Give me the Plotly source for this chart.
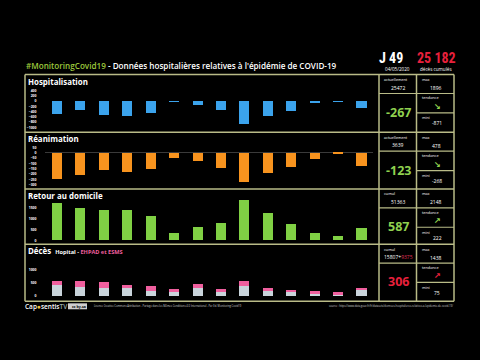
import plotly.graph_objects as go

# ---------------- data ----------------
days = ["21/04", "22/04", "23/04", "24/04", "25/04", "26/04", "27/04",
        "28/04", "29/04", "30/04", "01/05", "02/05", "03/05", "04/05"]
hosp = [-475, -350, -512, -562, -437, -15, -150, -350, -871, -550, -375, -50, -10, -267]
rea = [-247, -210, -161, -183, -149, -46, -74, -139, -268, -186, -130, -53, -8, -123]
retour = [1762, 1484, 1422, 1406, 1113, 325, 618, 819, 1901, 1252, 742, 355, 222, 587]
deces_hop = [400, 337, 312, 350, 200, 162, 300, 200, 375, 187, 135, 125, 87, 230]
deces_ehpad = [150, 225, 225, 50, 175, 88, 150, 62, 187, 113, 90, 50, 50, 76]

hosp_ticks = [400, 200, 0, -200, -400, -600, -800, -1000]
rea_ticks = [50, 0, -50, -100, -150, -200, -250, -300]
retour_ticks = [1500, 1000, 500, 0]
deces_ticks = [1000, 500, 0]

panel_titles = ["Hospitalisation", "Réanimation", "Retour au domicile", "Décès"]
stat_labels = ["actuellement", "actuellement", "cumul", "cumul"]
stat_values = ["25472", "3639", "51363", "15807+<span style='color:#e0325a'>9375</span>"]
max_values = ["1896", "478", "2148", "1438"]
mini_values = ["-871", "-268", "222", "75"]
big_values = ["-267", "-123", "587", "306"]
trend_arrows = ["\u2198", "\u2198", "\u2197", "\u2197"]

W, H = 480, 360
GREEN = "#8fd14f"
RED = "#e8203c"
PINK = "#ef5f9e"
FRAME = "#b9bb87"
FONT = "Open Sans"


def px(x):
    return x / W


def py(y):
    return 1 - y / H


fig = go.Figure()

colors = ["#3ba3ec", "#f7931e", "#80d044"]
series = [hosp, rea, retour]
for i, (s, c) in enumerate(zip(series, colors)):
    fig.add_trace(go.Bar(x=days, y=s, marker_color=c, width=0.43,
                         xaxis=f"x{i+1 if i else ''}", yaxis=f"y{i+1 if i else ''}",
                         showlegend=False, marker_line_width=0))
fig.add_trace(go.Bar(x=days, y=deces_hop, marker_color="#c9d4db", width=0.43,
                     xaxis="x4", yaxis="y4", showlegend=False, marker_line_width=0))
fig.add_trace(go.Bar(x=days, y=deces_ehpad, marker_color=PINK, width=0.43,
                     xaxis="x4", yaxis="y4", showlegend=False, marker_line_width=0))

xdom = [px(45.3), px(373.2)]
ydoms = [(88, 129), (145, 187), (198, 242), (258, 298)]
yranges = [[-1064, 475], [-318, 71], [-60, 1977], [-49, 1449]]
yticks = [hosp_ticks, rea_ticks, retour_ticks, deces_ticks]

layout = dict(
    width=W, height=H, margin=dict(l=0, r=0, t=0, b=0),
    paper_bgcolor="black", plot_bgcolor="black", barmode="stack",
    font=dict(family=FONT, color="white"),
)
for i in range(4):
    sfx = str(i + 1) if i else ""
    layout[f"xaxis{sfx}"] = dict(domain=xdom, anchor=f"y{sfx}", showticklabels=False,
                                 showgrid=False, zeroline=False, showline=False,
                                 range=[-0.5, 13.5], type="category")
    top, bot = ydoms[i]
    layout[f"yaxis{sfx}"] = dict(domain=[py(bot), py(top)], anchor="free", position=px(36.5),
                                 range=yranges[i], tickvals=yticks[i], showgrid=False,
                                 zeroline=(i == 1), zerolinecolor="#3a3a3a", zerolinewidth=1,
                                 showline=False, ticks="",
                                 tickfont=dict(size=3.4, color="white", family=FONT, weight=700))
fig.update_layout(**layout)

shapes = []


def line(x0, y0, x1, y1, w=1.5):
    shapes.append(dict(type="line", xref="paper", yref="paper",
                       x0=px(x0), y0=py(y0), x1=px(x1), y1=py(y1),
                       line=dict(color=FRAME, width=w)))


L, R, C1, C2 = 25, 454, 379, 416.5
tops = [74, 132, 189, 244.5]
bottom = 302
line(L, tops[0], R, tops[0])
line(L, bottom, R, bottom)
line(L, tops[0], L, bottom)
line(R, tops[0], R, bottom)
line(C1, tops[0], C1, bottom)
line(C2, tops[0], C2, bottom)
for t in tops[1:]:
    line(L, t, R, t)
for t in tops:
    line(C1, t + 19, R, t + 19, 1.2)
    line(C2, t + 38.5, R, t + 38.5, 1.2)

annotations = []


def text(x, y, s, size, color="white", xanchor="center", weight=400, family=FONT):
    annotations.append(dict(xref="paper", yref="paper", x=px(x), y=py(y), text=s,
                            showarrow=False, xanchor=xanchor, yanchor="middle",
                            font=dict(size=size, color=color, family=family, weight=weight)))


COND = "Liberation Sans Narrow, Roboto Condensed, Open Sans"

# header
text(23.5, 65, "<span style='color:#9cc83c'>#MonitoringCovid19</span> - Données hospitalières relatives à l'épidémie de COVID-19",
     8.15, xanchor="left", weight=600)
text(391, 57, "J 49", 14, weight=700, family=COND)
text(397, 68.5, "04/05/2020", 4.6)
text(436, 57, "25 182", 14, color=RED, weight=700, family=COND)
text(436, 68.5, "décès cumulés", 4.6)

# panels
for i, t in enumerate(tops):
    ttl = panel_titles[i]
    if i == 3:
        ttl = ("Décès  <span style='font-size:5.6px'>Hopital - </span>"
               f"<span style='font-size:5.6px;color:{PINK}'>EHPAD et ESMS</span>")
    text(25.5, t + 7, ttl, 7.9, xanchor="left", weight=700)
    text(382, t + 5, stat_labels[i], 3.8, xanchor="left")
    text(398, t + 13, stat_values[i], 5, weight=400)
    text(419.5, t + 5, "max", 3.8, xanchor="left")
    text(436, t + 13.5, max_values[i], 5)
    text(419.5, t + 23.5, "tendance", 3.8, xanchor="left")
    arrow_col = RED if i == 3 else GREEN
    text(437, t + 31, trend_arrows[i], 8, color=arrow_col, weight=700)
    text(419.5, t + 43.5, "mini", 3.8, xanchor="left")
    text(437, t + 49, mini_values[i], 5)
    text(398, t + 38, big_values[i], 12.5, color=RED if i == 3 else GREEN, weight=700)

# footer
text(23, 307, "Cap<span style='color:#f2c23a'>\u25cf</span>sentis<span style='color:#9aa'>TV</span>", 6.5,
     xanchor="left", weight=600)
text(69, 307, "<b> cc by-sa </b>", 3.6, color="black", xanchor="left")
shapes.append(dict(type="rect", xref="paper", yref="paper", x0=px(68), x1=px(87),
                   y0=py(310), y1=py(304), fillcolor="#cfcfcf", line=dict(width=0), layer="below"))
text(92, 307, "Licence Creative Commons Attribution - Partage dans les Mêmes Conditions 4.0 International - Par Ed. Monitoring Covid19",
     2.6, color="#cccccc", xanchor="left")
text(455, 307, "source : https://www.data.gouv.fr/fr/datasets/donnees-hospitalieres-relatives-a-lepidemie-de-covid-19/",
     2.6, color="#cccccc", xanchor="right")

fig.update_layout(shapes=shapes, annotations=annotations)
fig.write_html("out.html", config={"displayModeBar": False},
               post_script="document.body.style.margin='0';document.body.style.overflow='hidden';")
